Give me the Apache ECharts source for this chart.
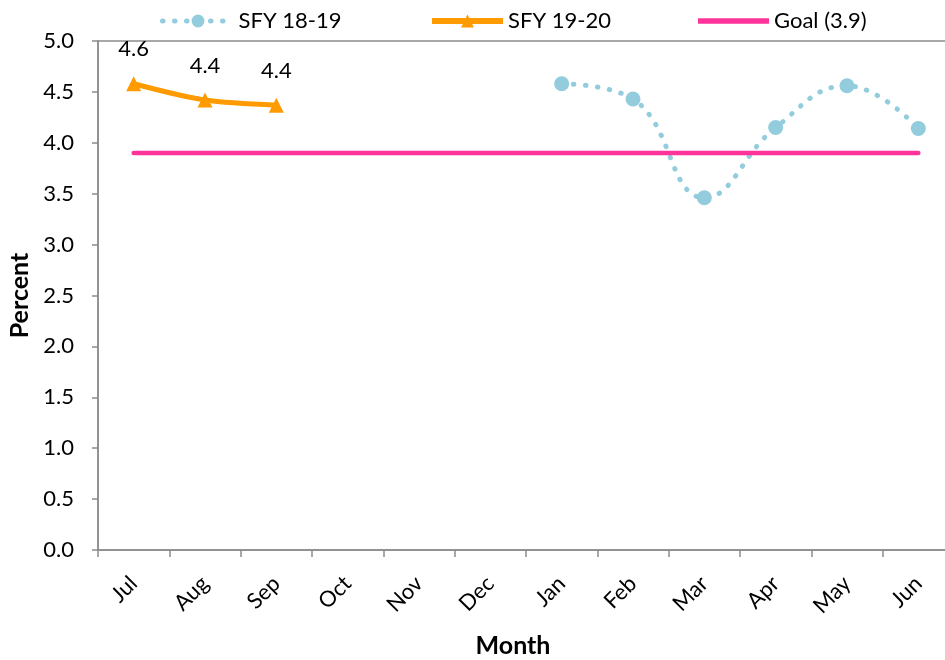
<!DOCTYPE html>
<html><head><meta charset="utf-8">
<script src="https://cdn.jsdelivr.net/npm/echarts@6/dist/echarts.min.js"></script>
<style>html,body{margin:0;padding:0;background:#fff}#c{width:945px;height:660px}</style>
</head><body><div id="c"></div>
<script>
const months = ['Jul','Aug','Sep','Oct','Nov','Dec','Jan','Feb','Mar','Apr','May','Jun'];
const sfy1819 = [null,null,null,null,null,null,4.58,4.43,3.46,4.15,4.56,4.14];
const sfy1920 = [4.58,4.42,4.37,null,null,null,null,null,null,null,null,null];
const goal = [3.9,3.9,3.9,3.9,3.9,3.9,3.9,3.9,3.9,3.9,3.9,3.9];
const FONT = 'Lato';
const FS = 22;
function leg(left, item, lw){
  return {top:5, left:left, itemWidth:71, itemHeight:16,
    textStyle:{fontFamily:FONT,fontSize:FS,color:'#000'},
    lineStyle:{width:lw}, data:[item]};
}
const chart = echarts.init(document.getElementById('c'));
chart.setOption({
  animation:false,
  textStyle:{fontFamily:FONT},
  legend:[
    leg(155,'SFY 18-19',5),
    leg(424,'SFY 19-20',6),
    leg(693,{name:'Goal (3.9)', icon:'path://M0,0H100V8H0Z'},6)
  ],
  grid:{left:98, top:41, width:856, height:509, show:true, borderColor:'#8c8c8c', borderWidth:1.5,
        containLabel:false, outerBoundsMode:'none'},
  xAxis:{
    type:'category', data:months, boundaryGap:true,
    name:'Month', nameLocation:'middle', nameGap:83,
    nameTextStyle:{fontFamily:FONT,fontSize:25,fontWeight:'bold',color:'#000',padding:[0,26,0,0]},
    axisLine:{lineStyle:{color:'#8c8c8c',width:1.5}},
    axisTick:{show:true,alignWithLabel:false,length:7,lineStyle:{color:'#8c8c8c',width:1.5}},
    axisLabel:{rotate:45,fontFamily:FONT,fontSize:FS,color:'#000',margin:30,interval:0},
    splitLine:{show:false}
  },
  yAxis:{
    type:'value', min:0, max:5, interval:0.5,
    name:'Percent', nameLocation:'middle', nameGap:64, nameRotate:90,
    nameTextStyle:{fontFamily:FONT,fontSize:25,fontWeight:'bold',color:'#000'},
    axisLine:{show:true,lineStyle:{color:'#8c8c8c',width:1.5}},
    axisTick:{show:true,length:6,lineStyle:{color:'#8c8c8c',width:1.5}},
    axisLabel:{fontFamily:FONT,fontSize:FS,color:'#000',margin:24,formatter:v=>v.toFixed(1)},
    splitLine:{show:false}
  },
  series:[
    {name:'SFY 18-19', type:'line', data:sfy1819, smooth:0.45, connectNulls:false,
     symbol:'circle', symbolSize:15,
     itemStyle:{color:'#93CDDD'},
     lineStyle:{color:'#93CDDD', width:5, type:[0.5,11.5], cap:'round'}},
    {name:'SFY 19-20', type:'line', data:sfy1920, smooth:0.3,
     symbol:'triangle', symbolSize:15,
     itemStyle:{color:'#FF9A00'},
     lineStyle:{color:'#FF9A00', width:5},
     label:{show:true, position:'top', distance:16, fontFamily:FONT, fontSize:FS, color:'#000',
       formatter:p=>p.value.toFixed(1)}},
    {name:'Goal (3.9)', type:'line', data:goal, symbol:'none',
     itemStyle:{color:'#FF3399'},
     lineStyle:{color:'#FF3399', width:4.5, cap:'round'}}
  ]
});
</script></body></html>
